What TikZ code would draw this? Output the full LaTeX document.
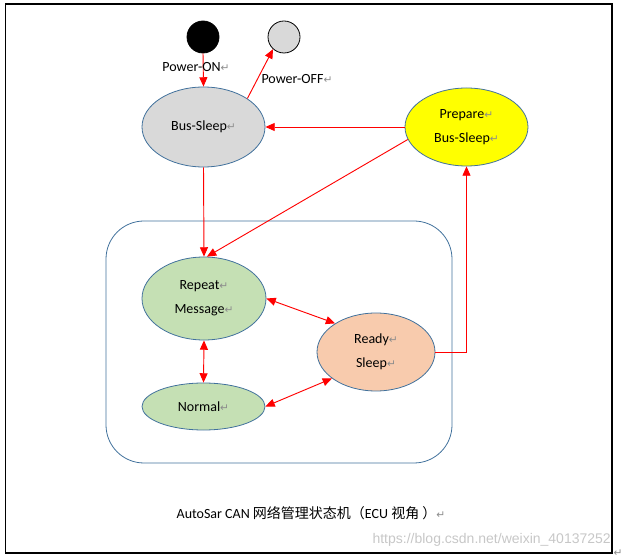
\documentclass[tikz,border=0pt]{standalone}
\usepackage{fontspec}
\setmainfont{Carlito}
\newfontfamily\cjkfont{Noto Sans CJK SC}
\newfontfamily\symfont{DejaVu Sans}
\newfontfamily\markfont{Liberation Sans}
\usetikzlibrary{arrows.meta}
\usetikzlibrary{shapes.geometric}
\definecolor{nmBorder}{RGB}{65,113,156}
\definecolor{nmGray}{RGB}{217,217,217}
\definecolor{nmYellow}{RGB}{255,255,0}
\definecolor{nmGreen}{RGB}{197,224,180}
\definecolor{nmPeach}{RGB}{248,203,173}
\newcommand{\parmark}{{\symfont\color{black!45}\fontsize{8}{8}\selectfont ↵}}

\tikzset{
  stateNode/.style={ellipse, draw=nmBorder, line width=0.6pt, inner sep=0pt, align=center, font=\fontsize{10.5}{18}\selectfont},
  transArrow/.style={draw=red, line width=0.7pt, -{Triangle[length=7pt,width=6pt]}},
  bothArrow/.style={draw=red, line width=0.7pt, {Triangle[length=7pt,width=6pt]}-{Triangle[length=7pt,width=6pt]}},
  textNode/.style={inner sep=0.75pt, font=\fontsize{10.5}{12}\selectfont}
}

\begin{document}
\begin{tikzpicture}[x=0.75pt,y=0.75pt,yscale=-1,xscale=1]
\useasboundingbox (0,0) rectangle (621,559);

%Shape: Frame
\draw [line width=1pt] (5.5,4) rectangle (612,553);
%Shape: Rounded Rectangle
\draw [draw=nmBorder, line width=0.6pt, rounded corners=28.5pt] (106,221) rectangle (452,463);

%Shape: Circle
\node [circle, draw=black, fill=black, line width=0.6pt, minimum size=24pt, inner sep=0pt] (powerOn) at (203,37) {};
%Shape: Circle
\node [circle, draw=black, fill=nmGray, line width=0.6pt, minimum size=24pt, inner sep=0pt] (powerOff) at (284,37) {};

%Shape: Ellipse
\node [stateNode, fill=nmGray, minimum width=92.25pt, minimum height=60pt] (busSleep) at (203.5,127) {Bus-Sleep\parmark};
%Shape: Ellipse
\node [stateNode, fill=nmYellow, minimum width=92.25pt, minimum height=58.5pt] (prepare) at (466.5,127) {Prepare\parmark\\Bus-Sleep\parmark};
%Shape: Ellipse
\node [stateNode, fill=nmGreen, minimum width=93pt, minimum height=62.25pt] (repeatMsg) at (204,298.5) {Repeat\parmark\\Message\parmark};
%Shape: Ellipse
\node [stateNode, fill=nmPeach, minimum width=88.5pt, minimum height=58.5pt] (readySleep) at (376,352) {Ready\parmark\\Sleep\parmark};
%Shape: Ellipse
\node [stateNode, fill=nmGreen, minimum width=92.25pt, minimum height=35.25pt] (normal) at (203.5,406.5) {Normal\parmark};

%Straight Lines
\draw [transArrow] (powerOn.south) -- (busSleep.north);
%Straight Lines
\draw [transArrow] (busSleep.33) -- (powerOff.-132);
%Straight Lines
\draw [transArrow] (prepare.west) -- (busSleep.east);
%Straight Lines
\draw [transArrow] (prepare.192) -- (repeatMsg.86);
%Straight Lines
\draw [transArrow] (busSleep.south) -- (repeatMsg.north);
%Straight Lines
\draw [bothArrow] (repeatMsg.east) -- (readySleep.145);
%Straight Lines
\draw [bothArrow] (repeatMsg.south) -- (normal.north);
%Straight Lines
\draw [bothArrow] (normal.east) -- (readySleep.211);
%Straight Lines
\draw [transArrow] (readySleep.east) -| (prepare.south);

% Text Node
\node [textNode] (onLabel) at (196,67) {Power-ON\parmark};
% Text Node
\node [textNode] (offLabel) at (297,79) {Power-OFF\parmark};
% Text Node
\node [textNode] (caption) at (311,513) {AutoSar CAN {\cjkfont 网络管理状态机（}ECU {\cjkfont 视角 ）}\parmark};
% Text Node
\node [textNode, anchor=east, text=black!22, font=\markfont\fontsize{10.5}{12}\selectfont] (watermark) at (612,540) {https://blog.csdn.net/weixin\_40137252};
% Text Node
\node [textNode] (endMark) at (618,553) {\parmark};

\end{tikzpicture}
\end{document}
